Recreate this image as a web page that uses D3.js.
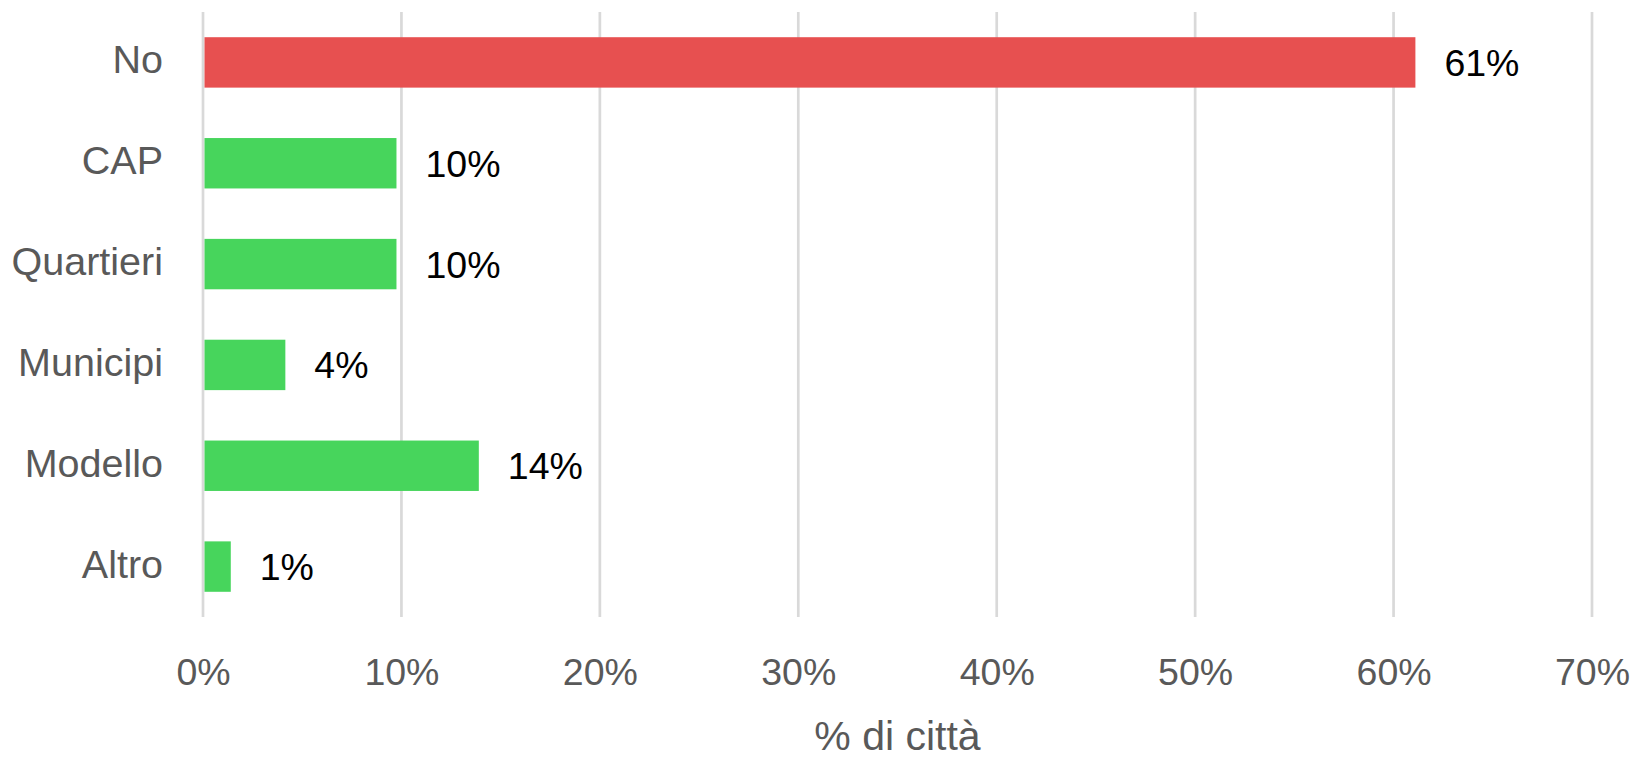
<!DOCTYPE html>
<html>
<head>
<meta charset="utf-8">
<script src="https://cdn.jsdelivr.net/npm/d3@7"></script>
<style>
  html, body { margin: 0; padding: 0; background: #fff; }
  svg { display: block; }
  text { font-family: "Liberation Sans", Arial, sans-serif; }
</style>
</head>
<body>
<svg id="chart" width="1636" height="761"></svg>
<script>
const categories = ["No", "CAP", "Quartieri", "Municipi", "Modello", "Altro"];
const values = [0.611, 0.0975, 0.0975, 0.0415, 0.139, 0.014];
const valueLabels = ["61%", "10%", "10%", "4%", "14%", "1%"];
const barColors = ["#E75050", "#47D55C", "#47D55C", "#47D55C", "#47D55C", "#47D55C"];
const tickValues = [0, 0.1, 0.2, 0.3, 0.4, 0.5, 0.6, 0.7];
const axisTitle = "% di città";

(function () {
const svg = d3.select("#chart");
const mLeft = 203, mRight = 1592, mTop = 12, mBottom = 617;

const x = d3.scaleLinear().domain([0, 0.7]).range([mLeft, mRight]);
const y = d3.scaleBand().domain(categories).range([mTop, mBottom]).paddingInner(0.5).paddingOuter(0.25);

// gridlines
svg.append("g").selectAll("line").data(tickValues).join("line")
  .attr("x1", d => x(d)).attr("x2", d => x(d))
  .attr("y1", mTop).attr("y2", mBottom)
  .attr("stroke", "#D9D9D9").attr("stroke-width", 2.7);

// bars
svg.append("g").selectAll("rect").data(values).join("rect")
  .attr("x", x(0) + 1.5)
  .attr("y", (d, i) => y(categories[i]))
  .attr("width", d => x(d) - x(0) - 1.5)
  .attr("height", y.bandwidth())
  .attr("fill", (d, i) => barColors[i]);

// value labels
svg.append("g").selectAll("text").data(values).join("text")
  .attr("x", d => x(d) + 29)
  .attr("y", (d, i) => y(categories[i]) + y.bandwidth() / 2)
  .attr("dy", "0.36em")
  .attr("font-size", 37.5)
  .attr("fill", "#000")
  .text((d, i) => valueLabels[i]);

// category axis
const yAxis = d3.axisLeft(y).tickSize(0).tickPadding(0);
const gy = svg.append("g").attr("transform", `translate(${163},0)`).call(yAxis);
gy.select(".domain").remove();
gy.selectAll("text").attr("font-size", 39.5).attr("fill", "#595959")
  .attr("font-family", "Liberation Sans, Arial, sans-serif").attr("dy", "0.28em");

// x axis
const xAxis = d3.axisBottom(x).tickValues(tickValues).tickFormat(d3.format(".0%")).tickSize(0).tickPadding(0);
const gx = svg.append("g").attr("transform", `translate(0,${mBottom})`).call(xAxis);
gx.select(".domain").remove();
gx.selectAll("text").attr("font-size", 37.5).attr("fill", "#595959")
  .attr("font-family", "Liberation Sans, Arial, sans-serif")
  .attr("y", 68).attr("dy", 0);

// axis title
svg.append("text")
  .attr("x", (mLeft + mRight) / 2).attr("y", 750)
  .attr("text-anchor", "middle")
  .attr("font-size", 41).attr("fill", "#595959")
  .text(axisTitle);
})();
</script>
</body>
</html>
